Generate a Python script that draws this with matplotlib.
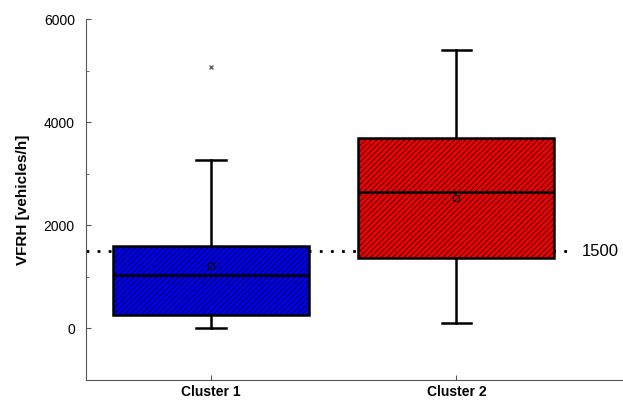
import matplotlib
matplotlib.use("Agg")
import matplotlib.pyplot as plt

plt.rcParams['font.family'] = ['Liberation Sans', 'DejaVu Sans']
plt.rcParams['hatch.linewidth'] = 0.5

labels = ['Cluster 1', 'Cluster 2']
whislo = [0, 100]
q1 = [250, 1370]
med = [1030, 2640]
q3 = [1590, 3700]
whishi = [3270, 5400]
means = [1220, 2540]
fliers = [[5070], []]
colors = ['#0000ee', '#ee0000']
threshold = 1500

stats = [dict(label=l, whislo=a, q1=b, med=c, q3=d, whishi=e, mean=m, fliers=f)
         for l, a, b, c, d, e, m, f in zip(labels, whislo, q1, med, q3, whishi, means, fliers)]

fig = plt.figure(figsize=(6.23, 4.12), dpi=100)
ax = fig.add_axes([0.138, 0.078, 0.862, 0.875])
bp = ax.bxp(stats, positions=[1, 2], widths=0.8, patch_artist=True, showmeans=True,
            boxprops=dict(linewidth=1.8, edgecolor='black'),
            medianprops=dict(color='black', linewidth=1.8),
            whiskerprops=dict(linewidth=1.8), capprops=dict(linewidth=1.8),
            capwidths=0.12,
            meanprops=dict(marker='s', markerfacecolor='none', markeredgecolor='black',
                           markersize=4, markeredgewidth=0.8),
            flierprops=dict(marker='x', markersize=3, markeredgecolor='#666666'))
for patch, c in zip(bp['boxes'], colors):
    patch.set_facecolor(c)
    patch.set_hatch('//////')
ax.plot([0.49, 2.47], [threshold, threshold], color='black', linestyle=(0, (1, 3)),
        linewidth=2, zorder=0)
ax.text(2.51, threshold, str(threshold), va='center', ha='left', fontsize=12)

ax.set_xlim(0.49, 2.68)
ax.set_ylim(-1000, 6000)
ax.set_yticks([0, 2000, 4000, 6000])
ax.set_yticks([1000, 3000, 5000], minor=True)
ax.set_ylabel('VFRH [vehicles/h]', fontsize=11, fontweight='bold', labelpad=10)
ax.set_xticks([1, 2])
ax.set_xticklabels(labels, fontweight='bold', fontsize=11)
for s in ['top', 'right']:
    ax.spines[s].set_visible(False)
ax.spines['left'].set_color('#555555')
ax.spines['bottom'].set_color('#555555')
ax.tick_params(which='both', direction='in', colors='#555555', labelcolor='black', labelsize=10)
ax.tick_params(axis='y', pad=8)
fig.savefig('out.png', dpi=100)
